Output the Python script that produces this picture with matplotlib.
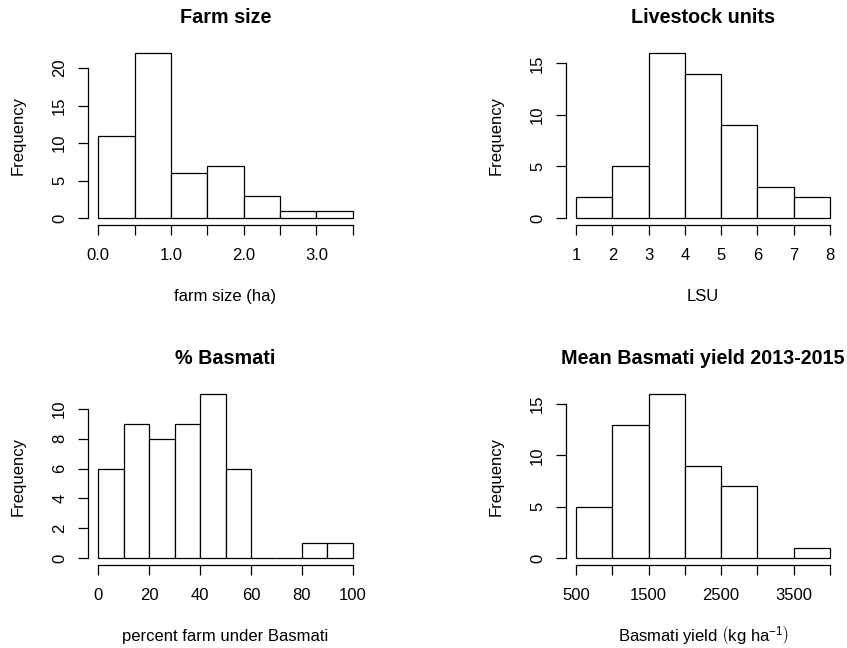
import numpy as np
import matplotlib
matplotlib.use("Agg")
import matplotlib.pyplot as plt

plt.rcParams['font.family'] = ['Liberation Sans', 'DejaVu Sans']
plt.rcParams['mathtext.fontset'] = 'custom'
plt.rcParams['mathtext.rm'] = 'Liberation Sans'
plt.rcParams['mathtext.it'] = 'Liberation Sans:italic'

# ---- data ----
farm_edges = [0.0, 0.5, 1.0, 1.5, 2.0, 2.5, 3.0, 3.5]
farm_counts = [11, 22, 6, 7, 3, 1, 1]
farm_xticklabels = ["0.0", "", "1.0", "", "2.0", "", "3.0", ""]
farm_yticks = [0, 5, 10, 15, 20]

lsu_edges = [1, 2, 3, 4, 5, 6, 7, 8]
lsu_counts = [2, 5, 16, 14, 9, 3, 2]
lsu_xticklabels = ["1", "2", "3", "4", "5", "6", "7", "8"]
lsu_yticks = [0, 5, 10, 15]

bas_edges = [0, 10, 20, 30, 40, 50, 60, 70, 80, 90, 100]
bas_counts = [6, 9, 8, 9, 11, 6, 0, 0, 1, 1]
bas_xticks = [0, 20, 40, 60, 80, 100]
bas_xticklabels = ["0", "20", "40", "60", "80", "100"]
bas_yticks = [0, 2, 4, 6, 8, 10]

yld_edges = [500, 1000, 1500, 2000, 2500, 3000, 3500, 4000]
yld_counts = [5, 13, 16, 9, 7, 0, 1]
yld_xticklabels = ["500", "", "1500", "", "2500", "", "3500", ""]
yld_yticks = [0, 5, 10, 15]

titles = ["Farm size", "Livestock units", "% Basmati", "Mean Basmati yield 2013-2015"]
xlabels = ["farm size (ha)", "LSU", "percent farm under Basmati",
           r"Basmati yield $\left(\mathrm{kg\ ha}^{-1}\right)$"]

W, H = 847, 648
fig = plt.figure(figsize=(W / 100, H / 100), dpi=100)

def px_axes(x0, x1, ytop, ybot):
    return fig.add_axes([x0 / W, 1 - ybot / H, (x1 - x0) / W, (ybot - ytop) / H])

axes = [
    px_axes(88, 363, 46.4, 224.6),
    px_axes(566, 840, 46.4, 224.6),
    px_axes(88, 363, 387.4, 564.6),
    px_axes(566, 840, 387.4, 564.6),
]

panels = [
    (farm_edges, farm_counts, farm_edges, farm_xticklabels, farm_yticks),
    (lsu_edges, lsu_counts, lsu_edges, lsu_xticklabels, lsu_yticks),
    (bas_edges, bas_counts, bas_xticks, bas_xticklabels, bas_yticks),
    (yld_edges, yld_counts, yld_edges, yld_xticklabels, yld_yticks),
]

tick_fs = 12
for i, (ax, (edges, counts, xt, xtl, yt)) in enumerate(zip(axes, panels)):
    edges = np.asarray(edges, float)
    widths = np.diff(edges)
    ax.bar(edges[:-1], counts, width=widths, align='edge', color='white',
           edgecolor='black', linewidth=0.9)
    xmin, xmax = edges[0], edges[-1]
    ymax = max(counts)
    dx = (xmax - xmin) * 0.04
    dy = ymax * 0.04
    ax.set_xlim(xmin - dx, xmax + dx)
    ax.set_ylim(-dy, ymax + dy)
    for s in ['top', 'right']:
        ax.spines[s].set_visible(False)
    ax.spines['left'].set_bounds(yt[0], yt[-1])
    ax.spines['bottom'].set_bounds(xt[0], xt[-1])
    for s in ['left', 'bottom']:
        ax.spines[s].set_linewidth(0.9)
    ax.set_xticks(xt)
    ax.set_xticklabels(xtl)
    ax.set_yticks(yt)
    ax.set_yticklabels([str(v) for v in yt])
    ax.tick_params(axis='both', direction='out', length=7, width=0.9,
                   labelsize=tick_fs, colors='black')
    ax.tick_params(axis='x', pad=10)
    ax.tick_params(axis='y', pad=8)
    for lab in ax.get_yticklabels():
        lab.set_rotation(90)
        lab.set_va('center')
        lab.set_ha('right')
    ax.set_title(titles[i], fontsize=14.2, fontweight='bold', pad=17)
    ax.text(0.5, -72 / 178.2, xlabels[i], transform=ax.transAxes,
            ha='center', va='center', fontsize=tick_fs)
    ax.text(-70 / 275, 0.5, "Frequency", transform=ax.transAxes,
            ha='center', va='center', rotation=90, fontsize=tick_fs)

fig.savefig("out.png", dpi=100)
